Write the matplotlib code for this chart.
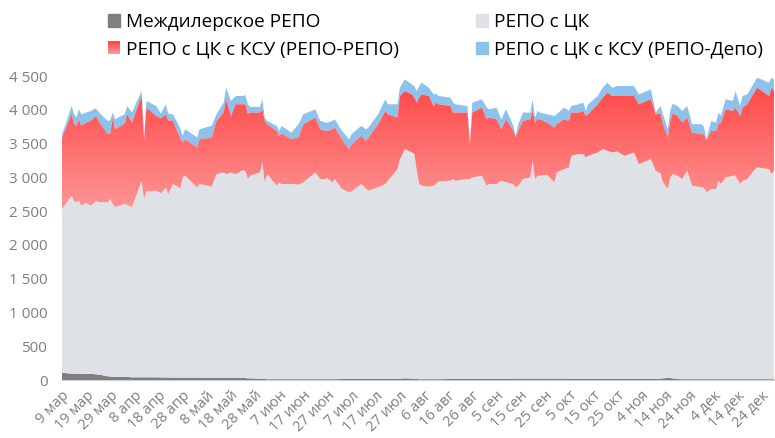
import numpy as np
import pandas as pd
import matplotlib
matplotlib.use("Agg")
import matplotlib.pyplot as plt
import matplotlib.dates as mdates
from matplotlib.colors import LinearSegmentedColormap
from matplotlib.patches import Patch, Rectangle
from matplotlib.legend_handler import HandlerBase
from matplotlib.ticker import FuncFormatter, MultipleLocator

plt.rcParams['font.family'] = ['Open Sans', 'DejaVu Sans']

YEAR = 2020

# dates (dd.mm), grouped by month
dates = [
    "09.03", "11.03", "13.03", "14.03", "15.03", "16.03", "17.03", "19.03", "21.03", "23.03", "25.03", "28.03", "29.03", "30.03", "31.03",
    "04.04", "05.04", "07.04", "11.04", "12.04", "13.04", "17.04", "19.04", "21.04", "22.04", "24.04", "27.04", "28.04", "29.04",
    "04.05", "05.05", "10.05", "12.05", "15.05", "16.05", "18.05", "20.05", "23.05", "24.05", "25.05", "26.05", "30.05", "31.05",
    "01.06", "02.06", "06.06", "07.06", "08.06", "12.06", "15.06", "17.06", "22.06", "24.06", "26.06", "27.06", "29.06", "30.06",
    "03.07", "06.07", "07.07", "11.07", "13.07", "14.07", "18.07", "21.07", "22.07", "26.07", "27.07", "29.07",
    "01.08", "02.08", "03.08", "04.08", "05.08", "08.08", "10.08", "11.08", "12.08", "17.08", "18.08", "19.08", "24.08", "25.08", "26.08", "30.08",
    "01.09", "02.09", "05.09", "07.09", "09.09", "12.09", "13.09", "14.09", "16.09", "19.09", "20.09", "21.09", "22.09", "23.09", "26.09", "29.09", "30.09",
    "03.10", "05.10", "06.10", "09.10", "11.10", "12.10", "13.10", "17.10", "19.10", "21.10", "23.10", "25.10", "28.10",
    "01.11", "03.11", "08.11", "10.11", "12.11", "13.11", "15.11", "16.11", "17.11", "19.11", "21.11", "23.11", "24.11", "25.11", "29.11", "30.11",
    "01.12", "03.12", "05.12", "06.12", "07.12", "09.12", "12.12", "13.12", "15.12", "16.12", "18.12", "20.12", "22.12", "27.12", "28.12", "29.12",
]

# Междилерское РЕПО
interdealer = [
    110, 100, 95, 95, 95, 90, 90, 90, 90, 85, 75, 55, 50, 50, 45,
    45, 45, 40, 40, 40, 40, 40, 38, 38, 38, 35, 35, 35, 35,
    35, 35, 30, 30, 30, 30, 30, 30, 30, 30, 25, 25, 20, 15,
    15, 12, 12, 12, 12, 12, 12, 12, 12, 12, 12, 12, 12, 12,
    15, 15, 15, 15, 15, 15, 15, 15, 15, 15, 20, 25,
    20, 15, 15, 12, 12, 12, 12, 12, 12, 15, 15, 15, 15, 15, 15, 15,
    15, 15, 15, 15, 15, 20, 20, 20, 20, 20, 20, 20, 20, 20, 20, 20, 20,
    20, 20, 15, 15, 15, 15, 15, 15, 15, 15, 15, 15, 15,
    15, 15, 15, 15, 20, 25, 30, 30, 25, 15, 12, 12, 12, 12, 12, 12,
    12, 12, 12, 12, 12, 12, 12, 12, 12, 12, 12, 12, 12, 12, 12, 12,
]

# РЕПО с ЦК
repo_ck = [
    2420, 2530, 2634, 2550, 2535, 2565, 2491, 2526, 2491, 2560, 2555, 2575, 2629, 2556, 2512,
    2561, 2546, 2517, 2910, 2639, 2753, 2762, 2725, 2814, 2715, 2866, 2802, 2964, 2989,
    2817, 2866, 2831, 3018, 3043, 3018, 3043, 3018, 3077, 3067, 2950, 2999, 3053, 3205,
    2910, 3036, 2864, 2913, 2889, 2889, 2879, 2913, 3061, 2963, 2963, 2977, 2913, 2963,
    2812, 2763, 2778, 2886, 2812, 2787, 2837, 2886, 2935, 3107, 3249, 3392,
    3348, 3328, 3082, 2889, 2864, 2849, 2864, 2889, 2928, 2935, 2960, 2935, 2960, 2960, 2984, 3009,
    2861, 2886, 2886, 2935, 2910, 2881, 2832, 2856, 2955, 2979, 3225, 2955, 3004, 3004, 3018, 2905, 3053,
    3102, 3127, 3304, 3328, 3328, 3279, 3304, 3353, 3402, 3377, 3353, 3368, 3304,
    3353, 3181, 3254, 3082, 3038, 2900, 2797, 2969, 3023, 3009, 2963, 3085, 2987, 2864, 2840, 2830,
    2766, 2815, 2815, 2938, 2889, 2987, 3012, 3012, 2889, 2938, 2963, 3061, 3135, 3110, 3036, 3085,
]

# РЕПО с ЦК с КСУ (РЕПО-РЕПО)
ksu_repo = [
    1057, 1131, 1205, 1141, 1131, 1205, 1180, 1195, 1254, 1264, 1155, 1008, 969, 1278, 1155,
    1190, 1342, 1254, 1254, 885, 1239, 1106, 1111, 1082, 1092, 934, 742, 516, 541,
    590, 664, 728, 787, 885, 1106, 836, 1033, 974, 983, 959, 934, 885, 787,
    910, 738, 811, 688, 747, 664, 698, 860, 811, 738, 713, 698, 787, 762,
    738, 639, 698, 713, 713, 787, 934, 1082, 983, 762, 934, 860,
    860, 836, 1008, 1278, 1352, 1342, 1180, 1205, 1141, 1106, 983, 1008, 983, 516, 959, 1008,
    983, 983, 959, 762, 934, 787, 738, 811, 860, 860, 738, 836, 836, 836, 772, 811, 713,
    738, 688, 639, 615, 639, 615, 615, 713, 762, 860, 836, 821, 885,
    836, 885, 885, 836, 885, 860, 762, 836, 895, 885, 836, 787, 787, 787, 787, 797,
    772, 860, 860, 836, 910, 1008, 959, 1008, 1008, 1082, 1106, 1131, 1180, 1082, 1278, 1180,
]

# РЕПО с ЦК с КСУ (РЕПО-Депо)
ksu_depo = [
    49, 74, 123, 148, 123, 148, 172, 148, 148, 113, 148, 197, 197, 74, 148,
    138, 123, 148, 74, 25, 98, 148, 69, 148, 98, 98, 148, 98, 148,
    148, 148, 172, 98, 148, 172, 221, 123, 123, 138, 148, 84, 84, 148,
    49, 49, 74, 74, 113, 98, 197, 148, 123, 123, 123, 123, 123, 123,
    123, 148, 148, 148, 172, 148, 148, 172, 148, 197, 123, 172,
    148, 172, 172, 172, 172, 123, 172, 133, 123, 123, 148, 123, 98, 25, 148, 123,
    172, 123, 172, 148, 148, 74, 25, 98, 123, 98, 172, 74, 123, 98, 123, 172, 148,
    172, 148, 98, 123, 123, 74, 148, 123, 148, 148, 123, 148, 148,
    148, 148, 148, 25, 113, 148, 123, 148, 148, 148, 172, 172, 148, 123, 148, 108,
    15, 148, 123, 172, 98, 148, 148, 246, 148, 172, 148, 148, 148, 197, 148, 172,
]

labels = ["Междилерское РЕПО", "РЕПО с ЦК",
          "РЕПО с ЦК с КСУ (РЕПО-РЕПО)", "РЕПО с ЦК с КСУ (РЕПО-Депо)"]
months = {3: "мар", 4: "апр", 5: "май", 6: "июн", 7: "июл", 8: "авг",
          9: "сен", 10: "окт", 11: "ноя", 12: "дек"}

x = pd.to_datetime([f"{d}.{YEAR}" for d in dates], format="%d.%m.%Y")
xn = mdates.date2num(x)

c_inter = "#7f7f7f"
c_ck = "#dee2e6"
c_depo = "#8cc2ec"
red_cmap = LinearSegmentedColormap.from_list("red", ["#ff9898", "#ff4848"])

fig = plt.figure(figsize=(7.75, 4.38), dpi=100)
ax = fig.add_axes([62 / 775, 58 / 438, 712 / 775, 304 / 438])

polys = ax.stackplot(xn, interdealer, repo_ck, ksu_repo, ksu_depo,
                     colors=[c_inter, c_ck, "#ff6a6a", c_depo], linewidth=0)

# gradient fill for the red layer
red = polys[2]
red.set_facecolor("none")
grad = np.linspace(0, 1, 256).reshape(-1, 1)
im = ax.imshow(grad, cmap=red_cmap, aspect="auto", origin="lower",
               extent=[xn[0], xn[-1], 2450, 4350], zorder=red.get_zorder(),
               interpolation="bilinear")
im.set_clip_path(red.get_paths()[0], transform=ax.transData)

ax.set_xlim(xn[0], xn[-1])
ax.set_ylim(0, 4500)

ticks = pd.date_range(f"{YEAR}-03-09", f"{YEAR}-12-24", freq="10D")
ax.set_xticks(mdates.date2num(ticks))
ax.set_xticklabels([f"{d.day} {months[d.month]}" for d in ticks],
                   rotation=45, ha="right", va="top", rotation_mode="anchor")
ax.yaxis.set_major_locator(MultipleLocator(500))
ax.yaxis.set_major_formatter(FuncFormatter(lambda v, p: f"{int(v):,}".replace(",", " ")))
ax.tick_params(axis="y", length=0, pad=10.5, labelsize=11, labelcolor="#7f7f7f")
ax.tick_params(axis="x", length=0, pad=6, labelsize=10.5, labelcolor="#7f7f7f")

for s in ["top", "right", "left"]:
    ax.spines[s].set_visible(False)
ax.spines["bottom"].set_color("#d0d0d0")
ax.spines["bottom"].set_zorder(0)


class GradHandler(HandlerBase):
    def create_artists(self, legend, orig, xd, yd, w, h, fs, trans):
        n = 10
        arts = []
        for k in range(n):
            r = Rectangle((-xd, -yd + k * h / n), w, h / n + 0.3,
                          facecolor=red_cmap(k / (n - 1)), edgecolor="none",
                          transform=trans)
            arts.append(r)
        return arts


handles = [Patch(color=c_inter), Patch(color="#ff6a6a"),
           Patch(color=c_ck), Patch(color=c_depo)]
leg_labels = [labels[0], labels[2], labels[1], labels[3]]
fig.legend(handles, leg_labels, loc="upper left", ncol=2,
           bbox_to_anchor=(108 / 775, 1 - 13 / 438), frameon=False,
           fontsize=13.7, handlelength=0.63, handleheight=0.63,
           handletextpad=0.32, columnspacing=4.05, labelspacing=0.5,
           borderpad=0, borderaxespad=0,
           handler_map={handles[1]: GradHandler()})

fig.savefig("out.png", dpi=100)
